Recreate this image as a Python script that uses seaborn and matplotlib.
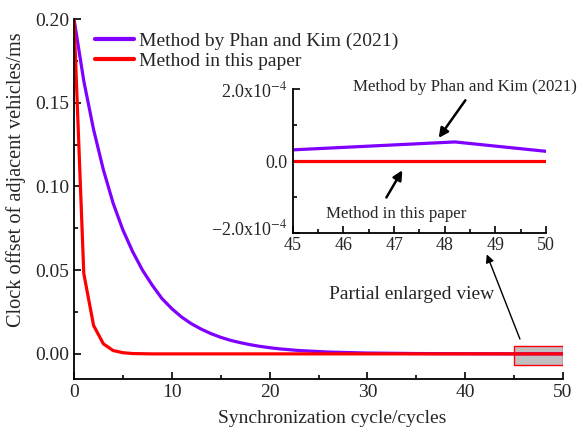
import numpy as np
import pandas as pd
import matplotlib
matplotlib.use("Agg")
import matplotlib.pyplot as plt
from matplotlib.patches import Rectangle
from matplotlib.ticker import MultipleLocator
from matplotlib.transforms import ScaledTranslation
import seaborn as sns

# ---------------- data ----------------
cycles_phan = [0, 1, 2, 3, 4, 5, 6, 7, 8, 9, 10, 11, 12, 13, 14, 15, 16, 17, 18, 19, 20,
               21, 22, 23, 24, 25, 26, 28, 30, 35, 40, 45, 48, 50]
offset_phan = [0.200, 0.163, 0.134, 0.110, 0.090, 0.074, 0.061, 0.050, 0.041, 0.033, 0.027,
               0.022, 0.018, 0.0148, 0.0121, 0.0099, 0.0081, 0.0067, 0.0055, 0.0045, 0.0037,
               0.0030, 0.0025, 0.0020, 0.0017, 0.0014, 0.0011, 0.0008, 0.0005, 0.0002, 0.0001,
               0.00003, 0.00005, 0.00003]
cycles_ours = [0, 1, 2, 3, 4, 5, 6, 7, 8, 10, 15, 20, 30, 40, 50]
offset_ours = [0.200, 0.048, 0.017, 0.006, 0.002, 0.0007, 0.0002, 0.0001, 0.0, 0.0, 0.0,
               0.0, 0.0, 0.0, 0.0]

inset_x_phan = [45, 48.2, 50]
inset_y_phan = [0.31e-4, 0.53e-4, 0.27e-4]
inset_x_ours = [45, 50]
inset_y_ours = [0.0, 0.0]

label_phan = "Method by Phan and Kim (2021)"
label_ours = "Method in this paper"
x_ticks = [0, 10, 20, 30, 40, 50]
y_ticks = [0.00, 0.05, 0.10, 0.15, 0.20]
inset_x_ticks = [45, 46, 47, 48, 49, 50]
inset_y_ticks = [-2e-4, 0.0, 2e-4]
inset_y_labels = ["\u22122.0x10$^{-4}$", "0.0", "2.0x10$^{-4}$"]

# ---------------- style ----------------
sns.set_style("ticks")
plt.rcParams["font.family"] = ["Liberation Serif", "DejaVu Serif"]
plt.rcParams["mathtext.fontset"] = "stix"
plt.rcParams["xtick.direction"] = "in"
plt.rcParams["ytick.direction"] = "in"

purple = "#8000FF"
red = "#FF0000"

df = pd.concat([
    pd.DataFrame({"cycle": cycles_phan, "offset": offset_phan, "method": label_phan}),
    pd.DataFrame({"cycle": cycles_ours, "offset": offset_ours, "method": label_ours}),
])
dfi = pd.concat([
    pd.DataFrame({"cycle": inset_x_phan, "offset": inset_y_phan, "method": label_phan}),
    pd.DataFrame({"cycle": inset_x_ours, "offset": inset_y_ours, "method": label_ours}),
])
palette = {label_phan: purple, label_ours: red}

fig = plt.figure(figsize=(5.8, 4.28), dpi=100)
ax = fig.add_axes([0.1276, 0.1145, 0.8431, 0.8411])

sns.lineplot(data=df, x="cycle", y="offset", hue="method", palette=palette,
             linewidth=2.3, ax=ax, estimator=None, sort=False)

ax.set_xlim(0, 50)
ax.set_ylim(-0.015, 0.20)
ax.set_xticks(x_ticks)
ax.set_yticks(y_ticks)
ax.set_yticklabels([f"{v:.2f}" for v in y_ticks])
ax.xaxis.set_minor_locator(MultipleLocator(5))
ax.yaxis.set_minor_locator(MultipleLocator(0.025))
ax.tick_params(axis="both", which="major", labelsize=14, length=5, width=1.2, color="black")
ax.tick_params(axis="both", which="minor", length=3, width=1.2, color="black")
for s in ["top", "right"]:
    ax.spines[s].set_visible(False)
for s in ["left", "bottom"]:
    ax.spines[s].set_linewidth(1.3)
    ax.spines[s].set_color("black")

ax.set_xlabel("Synchronization cycle/cycles", fontsize=14)
ax.set_ylabel("Clock offset of adjacent vehicles/ms", fontsize=14.6)
ax.xaxis.set_label_coords(0.528, -0.085)
ax.yaxis.set_label_coords(-0.099, 0.555)

leg = ax.legend(loc="upper left", bbox_to_anchor=(0.043, 0.962), frameon=False,
                fontsize=14, handlelength=2.0, handletextpad=0.25, labelspacing=0.12,
                borderaxespad=0, borderpad=0)
for ln in leg.get_lines():
    ln.set_linewidth(3)

# zoom box
ax.add_patch(Rectangle((inset_x_ticks[0], -0.0064), inset_x_ticks[-1] - inset_x_ticks[0], 0.0109,
                       facecolor="#c0c0c0", edgecolor=red, linewidth=1.0, zorder=1.5))

ax.annotate("", xy=(42.1, 0.061), xytext=(45.7, 0.0073),
            arrowprops=dict(arrowstyle="-|>", color="black", lw=1.0, mutation_scale=12))
ax.text(34.5, 0.0354, "Partial enlarged view", fontsize=14, ha="center", va="center")

# ---------------- inset ----------------
axi = fig.add_axes([0.505, 0.4556, 0.4362, 0.3364])
sns.lineplot(data=dfi, x="cycle", y="offset", hue="method", palette=palette,
             linewidth=2.3, ax=axi, estimator=None, sort=False, legend=False)
axi.set_xlim(45, 50)
axi.set_ylim(-2e-4, 2e-4)
axi.set_xticks(inset_x_ticks)
axi.set_yticks(inset_y_ticks)
axi.set_yticklabels(inset_y_labels)
axi.xaxis.set_minor_locator(MultipleLocator(0.5))
axi.yaxis.set_minor_locator(MultipleLocator(1e-4))
axi.tick_params(axis="x", which="major", labelsize=13, length=5, width=1.2, color="black", pad=3)
axi.tick_params(axis="y", which="major", labelsize=13, length=5, width=1.2, color="black", pad=4)
axi.tick_params(axis="both", which="minor", length=3, width=1.2, color="black")
axi.set_xlabel("")
axi.set_ylabel("")
axi.patch.set_alpha(0)
for s in ["top", "right"]:
    axi.spines[s].set_visible(False)
for s in ["left", "bottom"]:
    axi.spines[s].set_linewidth(1.3)
    axi.spines[s].set_color("black")

# nudge the lowest inset y label up a little so it does not collide with "45"
low_lbl = axi.get_yticklabels()[0]
low_lbl.set_transform(low_lbl.get_transform() + ScaledTranslation(0, 4 / 72, fig.dpi_scale_trans))

axi.annotate("", xy=(47.85, 0.58e-4), xytext=(48.44, 1.75e-4),
             arrowprops=dict(arrowstyle="-|>", color="black", lw=1.8, mutation_scale=14))
axi.text(48.40, 2.05e-4, label_phan, fontsize=12.2, ha="center", va="center")
axi.annotate("", xy=(47.19, -0.19e-4), xytext=(46.82, -1.08e-4),
             arrowprops=dict(arrowstyle="-|>", color="black", lw=1.8, mutation_scale=14))
axi.text(47.05, -1.47e-4, label_ours, fontsize=12.2, ha="center", va="center")

fig.savefig("out.png", dpi=100)
